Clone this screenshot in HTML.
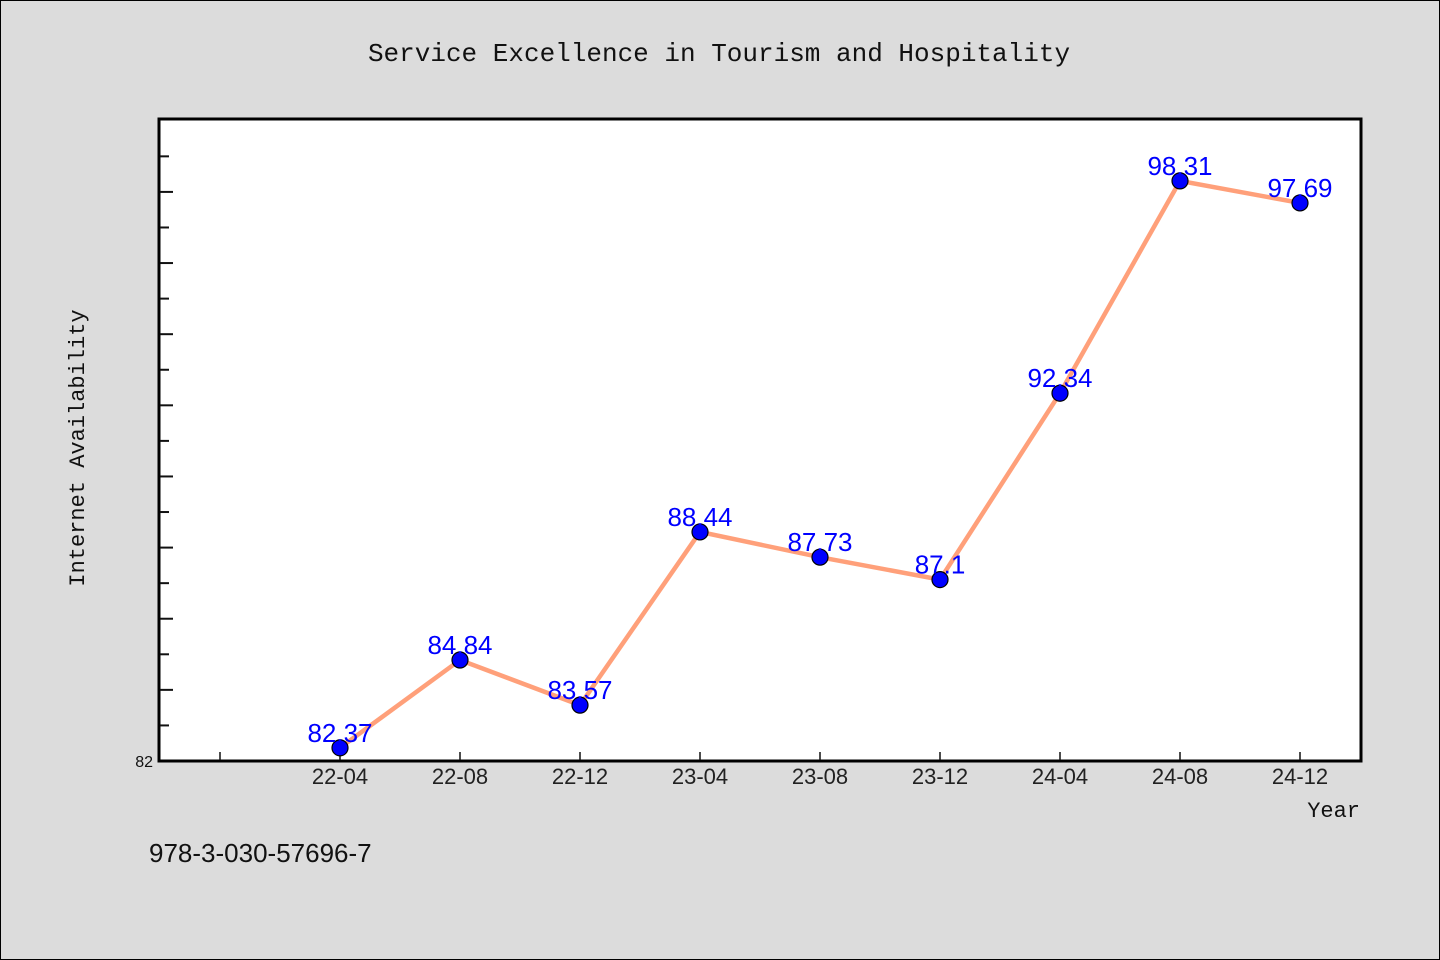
<!DOCTYPE html>
<html><head><meta charset="utf-8"><style>
body{margin:0;background:#dcdcdc;}
svg{display:block;font-family:"Liberation Sans",sans-serif;}
</style></head><body>
<svg width="1440" height="960">
<rect x="0.5" y="0.5" width="1439" height="959" fill="#dcdcdc" stroke="#000"/>
<text x="719" y="61" text-anchor="middle" font-family="Liberation Mono,monospace" font-size="26" fill="#111">Service Excellence in Tourism and Hospitality</text>
<rect x="159" y="119" width="1202" height="642" fill="#fff" stroke="#000" stroke-width="3"/>
<g id="ticks"></g>
<g id="series"></g>
<text x="84" y="448" transform="rotate(-90 84 448)" text-anchor="middle" font-family="Liberation Mono,monospace" font-size="22" fill="#111">Internet Availability</text>
<text x="1360" y="817" text-anchor="end" font-family="Liberation Mono,monospace" font-size="22" fill="#111">Year</text>
<text x="149" y="862" font-size="26" fill="#111">978-3-030-57696-7</text>
</svg>
<script>
const categories=["22-04","22-08","22-12","23-04","23-08","23-12","24-04","24-08","24-12"];
const values=[82.37,84.84,83.57,88.44,87.73,87.1,92.34,98.31,97.69];
const yTickValues=[83,84,85,86,87,88,89,90,91,92,93,94,95,96,97,98,99];
const yMin=82, yMax=100.05;
const NS="http://www.w3.org/2000/svg";
function y(v){return 761-(v-yMin)/(yMax-yMin)*642;}
function x(i){return 340+120*i;}
function mk(tag,attrs,parent){const e=document.createElementNS(NS,tag);for(const k in attrs)e.setAttribute(k,attrs[k]);parent.appendChild(e);return e;}
const tg=document.getElementById('ticks'), sg=document.getElementById('series');
yTickValues.forEach(v=>{
  const len=v%2===0?13:9;
  const t=mk('line',{x1:160,x2:160+len,y1:y(v),y2:y(v),stroke:'#111','stroke-width':2},tg);
  
  
});
const yl=mk('text',{x:153,y:767,'text-anchor':'end','font-size':16,fill:'#111'},tg);yl.textContent=String(yMin);


for(let i=-1;i<categories.length;i++){
  const t=mk('line',{x1:x(i),x2:x(i),y1:760,y2:752,stroke:'#111','stroke-width':1.5},tg);
  
  
  if(i>=0){const l=mk('text',{x:x(i),y:784,'text-anchor':'middle','font-size':22,fill:'#222'},tg);l.textContent=categories[i];
  
  }
}
const pl=mk('polyline',{points:values.map((v,i)=>x(i)+','+y(v)).join(' '),fill:'none',stroke:'#ffa07a','stroke-width':4.5},sg);


values.forEach((v,i)=>{
  const c=mk('circle',{cx:x(i),cy:y(v),r:8,fill:'#0000ff',stroke:'#000','stroke-width':1.2},sg);
  
  
  const l=mk('text',{x:x(i),y:y(v)-6,'text-anchor':'middle','font-size':26,fill:'#0000ff'},sg);l.textContent=String(v);
  
  
});
</script>
</body></html>
